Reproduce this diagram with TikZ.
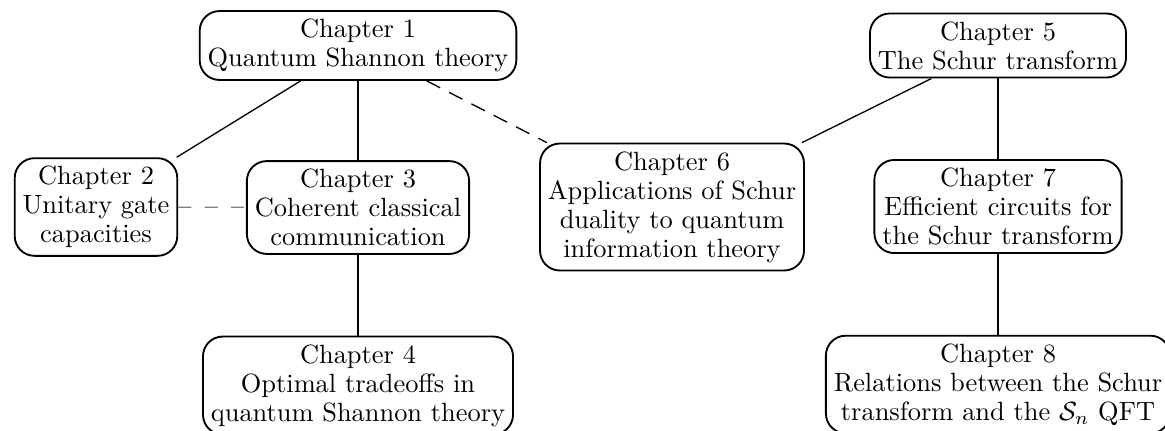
\documentclass[tikz,border=0pt]{standalone}
\usepackage{tikz}
\usetikzlibrary{positioning}

\begin{document}
\begin{tikzpicture}[x=0.3788pt,y=-0.3788pt,
  chap/.style={draw,line width=0.7pt,rounded corners=7.5pt,align=center,inner sep=3pt,font=\fontsize{10}{11}\selectfont},
  link/.style={line width=0.5pt},
  weak/.style={line width=0.5pt,dash pattern=on 5.7pt off 3.8pt}]
  \clip(0,0)rectangle(1165,430);
  % left branch
  \node[chap](ch1)at(358,45.5){Chapter 1\\Quantum Shannon theory};
  \node[chap](ch2)at(96,207){Chapter 2\\Unitary gate\\capacities};
  \node[chap](ch3)at(358,207.5){Chapter 3\\Coherent classical\\communication};
  \node[chap](ch4)at(358,385.5){Chapter 4\\Optimal tradeoffs in\\quantum Shannon theory};
  % right branch
  \node[chap](ch5)at(998,45.5){Chapter 5\\The Schur transform};
  \node[chap](ch6)at(672,207){Chapter 6\\Applications of Schur\\duality to quantum\\information theory};
  \node[chap](ch7)at(998,206.5){Chapter 7\\Efficient circuits for\\the Schur transform};
  \node[chap](ch8)at(998,384.5){Chapter 8\\Relations between the Schur\\transform and the $\mathcal{S}_n$ QFT};
  \draw[link](ch1)--(ch2);
  \draw[link](ch1)--(ch3);
  \draw[link](ch3)--(ch4);
  \draw[weak](ch1)--(ch6);
  \draw[weak,gray,dash pattern=on 5pt off 5pt](ch2)--(ch3);
  \draw[link](ch5)--(ch6);
  \draw[link](ch5)--(ch7);
  \draw[link](ch7)--(ch8);
\end{tikzpicture}
\end{document}
